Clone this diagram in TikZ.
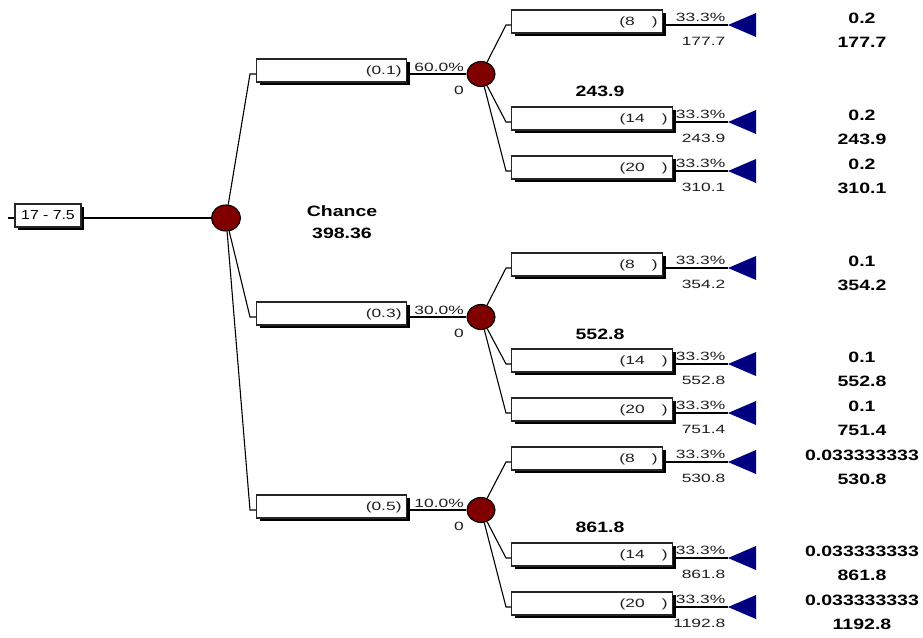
\documentclass[tikz,border=0pt]{standalone}
\usepackage{fontspec}
\setmainfont{Liberation Sans}
\newfontfamily\lblfont[FakeStretch=1.45]{Liberation Sans}
\newfontfamily\rootfont[FakeStretch=1.22]{Liberation Sans}
\newfontfamily\valfont[FakeStretch=1.3]{Liberation Sans}
\usetikzlibrary{shadows,shapes.geometric}
\definecolor{nodered}{RGB}{128,0,0}
\definecolor{tipblue}{RGB}{0,0,128}

\begin{document}
\begin{tikzpicture}[x=1pt,y=-1pt,
  link/.style={draw=black,line width=1.1pt},
  box/.style={draw=black!85,line width=1.1pt,fill=white,minimum height=23pt,
    inner ysep=0pt,inner xsep=5pt,text height=8.6pt,text depth=0pt,align=right,
    font=\lblfont\fontsize{12}{14}\selectfont,text=black!88,
    drop shadow={shadow xshift=3pt,shadow yshift=-3pt,fill=black,opacity=1}},
  chance/.style={ellipse,draw=black,line width=1.1pt,fill=nodered,
    minimum width=28pt,minimum height=25pt,inner sep=0pt},
  lbl/.style={font=\lblfont\fontsize{12}{14}\selectfont,text=black!88,
    inner sep=0pt,text height=8.6pt,text depth=0pt},
  val/.style={font=\valfont\bfseries\fontsize{15}{17}\selectfont,text=black,
    inner sep=0pt,text height=10.7pt,text depth=0pt}]

\useasboundingbox (0,0) rectangle (923,637);

% root decision and the chance node it feeds
\node[box,text width=56pt,align=center,font=\rootfont\fontsize{13}{15}\selectfont,text=black]
  (root) at (48,215.5) {17 - 7.5};
\node[chance,minimum width=29pt,minimum height=26pt] (c0) at (226,218) {};
\coordinate (stub) at (8,218);
\draw[link] (stub) -- ([yshift=-2.5pt]root.west);
\draw[link] ([yshift=-2.5pt]root.east) -- (c0);
\node[val] (ctitle) at (342,211.5) {Chance};
\node[val] (cvalue) at (342,233.5) {398.36};

% second level: probability branches ending in chance nodes
\foreach \n/\L/\k/\pc/\ev in {1/74/0.1/60.0/243.9, 2/317/0.3/30.0/552.8, 3/510/0.5/10.0/861.8}{
  \node[box,text width=140pt,anchor=west] (br\n) at (256,\L-3.5) {(\k)};
  \node[chance] (c\n) at (481,\L) {};
  \draw[link] (c0) -- ([xshift=-6pt,yshift=-3.5pt]br\n.west) -- ([yshift=-3.5pt]br\n.west);
  \draw[link] ([yshift=-3.5pt]br\n.east) -- (c\n);
  \node[lbl,anchor=east] (bp\n) at (464,\L-7) {\pc\%};
  \node[lbl,anchor=east] (bz\n) at (464,\L+16) {0};
  \node[val] (bv\n) at (600,\L+17.5) {\ev};
}

% third level: terminal branches
\foreach \n/\up/\L/\k/\tw/\v/\p in {
  a/c1/25/8/141/177.7/0.2, b/c1/122/14/151/243.9/0.2, c/c1/171/20/151/310.1/0.2,
  d/c2/268/8/141/354.2/0.1, e/c2/364/14/151/552.8/0.1, f/c2/413/20/151/751.4/0.1,
  g/c3/462/8/141/530.8/0.033333333, h/c3/558/14/151/861.8/0.033333333,
  i/c3/607/20/151/1192.8/0.033333333}{
  \node[box,text width=\tw pt,anchor=west] (leaf\n) at (511,\L-3.5) {(\k\hspace{17pt})};
  \draw[link] (\up) -- ([xshift=-5pt,yshift=-3.5pt]leaf\n.west) -- ([yshift=-3.5pt]leaf\n.west);
  \coordinate (tip\n) at (728,\L);
  \draw[link] ([yshift=-3.5pt]leaf\n.east) -- (tip\n);
  \fill[tipblue] (tip\n) -- ++(28,-12) -- ++(0,24) -- cycle;
  \node[lbl,anchor=east] (pct\n) at (725.5,\L-7.5) {33.3\%};
  \node[lbl,anchor=east] (ev\n) at (725.5,\L+16.5) {\v};
  \node[val] (pr\n) at (862,\L-7) {\p};
  \node[val] (pv\n) at (862,\L+17) {\v};
}
\end{tikzpicture}
\end{document}
